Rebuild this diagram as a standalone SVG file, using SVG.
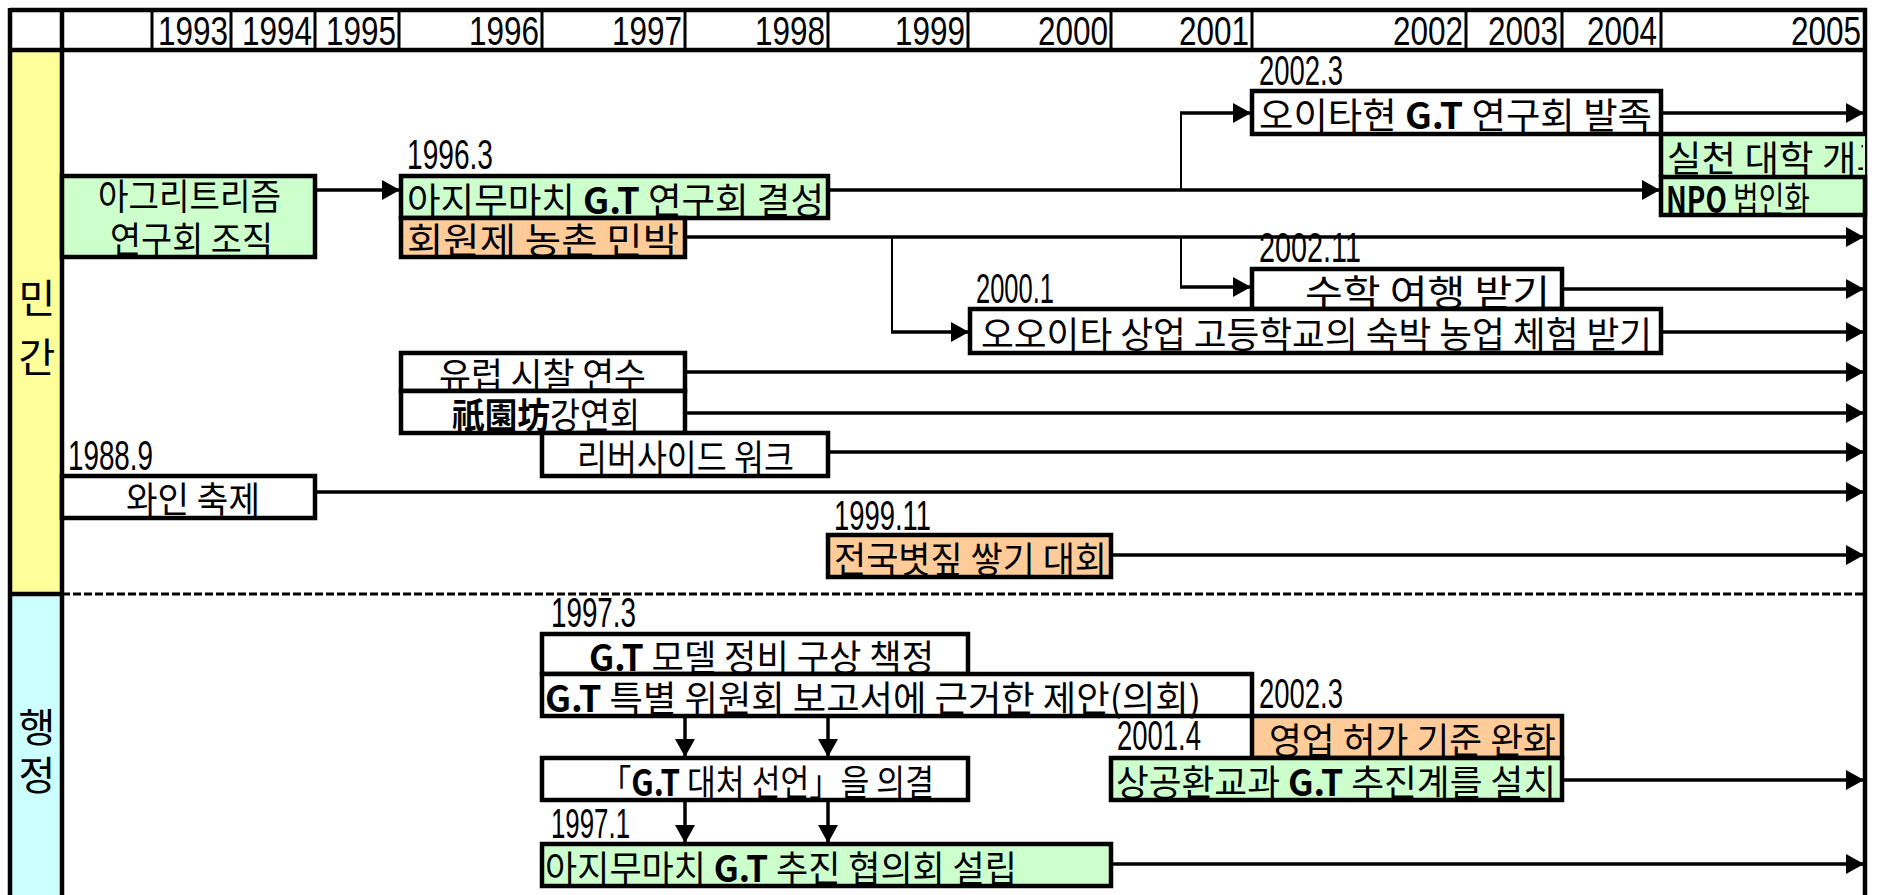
<svg xmlns="http://www.w3.org/2000/svg" width="1877" height="895" viewBox="0 0 1877 895">
<style>
.box{stroke:#000;stroke-width:4.5}
.w{fill:#fff}.g{fill:#CCFFCC}.o{fill:#FFCC99}
.t{font-family:"Noto Sans CJK KR","Noto Sans",sans-serif;font-size:36px;fill:#000}
.n{font-family:"Liberation Sans",Arial,sans-serif;font-size:42px;fill:#000}
.c{stroke:#000;stroke-width:3.5;fill:none}
.th{stroke:#000;stroke-width:2;fill:none}
.grid{stroke:#000;stroke-width:3}
.gridb{stroke:#000;stroke-width:4.5}
.b{font-weight:bold}
</style>
<defs>
<marker id="ah" markerUnits="userSpaceOnUse" markerWidth="19" markerHeight="20" refX="18" refY="10" orient="auto">
<path d="M0,0 L18,10 L0,20 z" fill="#000"/>
</marker>
<clipPath id="clipE"><rect x="1661" y="134" width="202" height="43"/></clipPath>
</defs>
<rect width="1877" height="895" fill="#fff"/>
<g id="frame">
<rect x="10" y="50" width="52" height="544" fill="#FFFF99"/>
<rect x="10" y="594" width="52" height="301" fill="#CCFFFF"/>
<line class="gridb" x1="10" y1="10" x2="1867" y2="10"/>
<line class="gridb" x1="10" y1="50" x2="1867" y2="50"/>
<line class="gridb" x1="10" y1="8" x2="10" y2="895"/>
<line class="gridb" x1="62" y1="8" x2="62" y2="895"/>
<line class="gridb" x1="1865" y1="8" x2="1865" y2="895"/>
<line class="gridb" x1="10" y1="594" x2="62" y2="594"/>
<line x1="62" y1="594" x2="1865" y2="594" stroke="#000" stroke-width="3" stroke-dasharray="8,3"/>
<g class="grid">
<line x1="152" y1="10" x2="152" y2="50"/>
<line x1="231" y1="10" x2="231" y2="50"/>
<line x1="315" y1="10" x2="315" y2="50"/>
<line x1="399" y1="10" x2="399" y2="50"/>
<line x1="542" y1="10" x2="542" y2="50"/>
<line x1="685" y1="10" x2="685" y2="50"/>
<line x1="828" y1="10" x2="828" y2="50"/>
<line x1="968" y1="10" x2="968" y2="50"/>
<line x1="1111" y1="10" x2="1111" y2="50"/>
<line x1="1252" y1="10" x2="1252" y2="50"/>
<line x1="1466" y1="10" x2="1466" y2="50"/>
<line x1="1562" y1="10" x2="1562" y2="50"/>
<line x1="1661" y1="10" x2="1661" y2="50"/>
</g>
<g class="n" text-anchor="end" style="font-size:40px">
<text x="228" y="45" textLength="70" lengthAdjust="spacingAndGlyphs">1993</text>
<text x="312" y="45" textLength="70" lengthAdjust="spacingAndGlyphs">1994</text>
<text x="396" y="45" textLength="70" lengthAdjust="spacingAndGlyphs">1995</text>
<text x="539" y="45" textLength="70" lengthAdjust="spacingAndGlyphs">1996</text>
<text x="682" y="45" textLength="70" lengthAdjust="spacingAndGlyphs">1997</text>
<text x="825" y="45" textLength="70" lengthAdjust="spacingAndGlyphs">1998</text>
<text x="965" y="45" textLength="70" lengthAdjust="spacingAndGlyphs">1999</text>
<text x="1108" y="45" textLength="70" lengthAdjust="spacingAndGlyphs">2000</text>
<text x="1249" y="45" textLength="70" lengthAdjust="spacingAndGlyphs">2001</text>
<text x="1463" y="45" textLength="70" lengthAdjust="spacingAndGlyphs">2002</text>
<text x="1558" y="45" textLength="70" lengthAdjust="spacingAndGlyphs">2003</text>
<text x="1657" y="45" textLength="70" lengthAdjust="spacingAndGlyphs">2004</text>
<text x="1861" y="45" textLength="70" lengthAdjust="spacingAndGlyphs">2005</text>
</g>
<g class="t" text-anchor="middle" dominant-baseline="central" style="font-size:40px">
<text x="37" y="296">민</text>
<text x="37" y="355">간</text>
<text x="37" y="725">행</text>
<text x="37" y="773">정</text>
</g>
</g>

<g id="connectors">
<line class="c" x1="315" y1="190" x2="400" y2="190" marker-end="url(#ah)"/>
<line class="c" x1="828" y1="190" x2="1660" y2="190" marker-end="url(#ah)"/>
<line class="th" x1="1181" y1="190" x2="1181" y2="113"/>
<line class="c" x1="1180" y1="113" x2="1251" y2="113" marker-end="url(#ah)"/>
<line class="c" x1="1661" y1="113" x2="1864" y2="113" marker-end="url(#ah)"/>
<line class="c" x1="685" y1="237" x2="1864" y2="237" marker-end="url(#ah)"/>
<line class="th" x1="892" y1="237" x2="892" y2="332"/>
<line class="c" x1="891" y1="332" x2="969" y2="332" marker-end="url(#ah)"/>
<line class="th" x1="1181" y1="237" x2="1181" y2="287"/>
<line class="c" x1="1180" y1="287" x2="1251" y2="287" marker-end="url(#ah)"/>
<line class="c" x1="1562" y1="289" x2="1864" y2="289" marker-end="url(#ah)"/>
<line class="c" x1="1661" y1="332" x2="1864" y2="332" marker-end="url(#ah)"/>
<line class="c" x1="685" y1="372" x2="1864" y2="372" marker-end="url(#ah)"/>
<line class="c" x1="685" y1="413" x2="1864" y2="413" marker-end="url(#ah)"/>
<line class="c" x1="828" y1="452" x2="1864" y2="452" marker-end="url(#ah)"/>
<line class="c" x1="315" y1="492" x2="1864" y2="492" marker-end="url(#ah)"/>
<line class="c" x1="1111" y1="555" x2="1864" y2="555" marker-end="url(#ah)"/>
<line class="c" x1="1562" y1="780" x2="1864" y2="780" marker-end="url(#ah)"/>
<line class="c" x1="1111" y1="864" x2="1864" y2="864" marker-end="url(#ah)"/>
<line class="c" x1="685" y1="716" x2="685" y2="757" marker-end="url(#ah)"/>
<line class="c" x1="828" y1="716" x2="828" y2="757" marker-end="url(#ah)"/>
<line class="c" x1="685" y1="800" x2="685" y2="843" marker-end="url(#ah)"/>
<line class="c" x1="828" y1="800" x2="828" y2="843" marker-end="url(#ah)"/>
</g>

<g id="n-agri">
<rect class="box g" x="62" y="176" width="253" height="81"/>
<text class="t" x="98" y="194" dominant-baseline="central" textLength="183" lengthAdjust="spacingAndGlyphs">아그리트리즘</text>
<text class="t" x="110" y="237" dominant-baseline="central" textLength="163" lengthAdjust="spacingAndGlyphs">연구회 조직</text>
</g>
<g id="n-ajimu-gt">
<text class="n" x="407" y="169" textLength="86" lengthAdjust="spacingAndGlyphs">1996.3</text>
<rect class="box g" x="401" y="176" width="427" height="42"/>
<text class="t" x="407" y="198" dominant-baseline="central" textLength="417" lengthAdjust="spacingAndGlyphs">아지무마치 <tspan class="b">G.T</tspan> 연구회 결성</text>
</g>
<g id="n-minbak">
<rect class="box o" x="401" y="218" width="284" height="39"/>
<text class="t" x="407" y="238" dominant-baseline="central" textLength="272" lengthAdjust="spacingAndGlyphs">회원제 농촌 민박</text>
</g>
<g id="n-oita">
<text class="n" x="1259" y="85" textLength="84" lengthAdjust="spacingAndGlyphs">2002.3</text>
<rect class="box w" x="1252" y="91" width="409" height="43"/>
<text class="t" x="1259" y="113" dominant-baseline="central" textLength="393" lengthAdjust="spacingAndGlyphs">오이타현 <tspan class="b">G.T</tspan> 연구회 발족</text>
</g>
<g id="n-college">
<rect x="1661" y="134" width="204" height="43" fill="#CCFFCC"/>
<line class="gridb" x1="1661" y1="134" x2="1865" y2="134"/>
<line class="gridb" x1="1661" y1="132" x2="1661" y2="177"/>
<text class="t" x="1667" y="156" dominant-baseline="central" textLength="224" lengthAdjust="spacingAndGlyphs" clip-path="url(#clipE)">실천 대학 개교</text>
</g>
<g id="n-npo">
<rect class="box g" x="1661" y="177" width="204" height="38"/>
<text class="t" x="1666" y="197" dominant-baseline="central" textLength="144" lengthAdjust="spacingAndGlyphs"><tspan class="b">NPO</tspan> 법인화</text>
</g>
<g id="n-school-trip">
<text class="n" x="1259" y="262" textLength="102" lengthAdjust="spacingAndGlyphs">2002.11</text>
<rect class="box w" x="1252" y="269" width="310" height="40"/>
<text class="t" x="1305" y="290" dominant-baseline="central" textLength="245" lengthAdjust="spacingAndGlyphs">수학 여행 받기</text>
</g>
<g id="n-oita-school">
<text class="n" x="976" y="303" textLength="78" lengthAdjust="spacingAndGlyphs">2000.1</text>
<rect class="box w" x="970" y="309" width="691" height="44"/>
<text class="t" x="981" y="332" dominant-baseline="central" textLength="671" lengthAdjust="spacingAndGlyphs">오오이타 상업 고등학교의 숙박 농업 체험 받기</text>
</g>
<g id="n-europe">
<rect class="box w" x="401" y="353" width="284" height="38"/>
<text class="t" x="439" y="373" dominant-baseline="central" textLength="207" lengthAdjust="spacingAndGlyphs">유럽 시찰 연수</text>
</g>
<g id="n-lecture">
<rect class="box w" x="401" y="391" width="284" height="42"/>
<text class="t" x="452" y="413" dominant-baseline="central" textLength="188" lengthAdjust="spacingAndGlyphs"><tspan class="b">祇園坊</tspan>강연회</text>
</g>
<g id="n-riverside">
<rect class="box w" x="542" y="433" width="286" height="43"/>
<text class="t" x="577" y="455" dominant-baseline="central" textLength="217" lengthAdjust="spacingAndGlyphs">리버사이드 워크</text>
</g>
<g id="n-wine">
<text class="n" x="68" y="470" textLength="85" lengthAdjust="spacingAndGlyphs">1988.9</text>
<rect class="box w" x="62" y="476" width="253" height="42"/>
<text class="t" x="126" y="497" dominant-baseline="central" textLength="134" lengthAdjust="spacingAndGlyphs">와인 축제</text>
</g>
<g id="n-straw">
<text class="n" x="834" y="530" textLength="97" lengthAdjust="spacingAndGlyphs">1999.11</text>
<rect class="box o" x="828" y="535" width="283" height="42"/>
<text class="t" x="834" y="557" dominant-baseline="central" textLength="273" lengthAdjust="spacingAndGlyphs">전국볏짚 쌓기 대회</text>
</g>
<g id="n-model">
<text class="n" x="551" y="627" textLength="85" lengthAdjust="spacingAndGlyphs">1997.3</text>
<rect class="box w" x="542" y="634" width="426" height="40"/>
<text class="t" x="589" y="655" dominant-baseline="central" textLength="345" lengthAdjust="spacingAndGlyphs"><tspan class="b">G.T</tspan> 모델 정비 구상 책정</text>
</g>
<g id="n-proposal">
<rect class="box w" x="542" y="674" width="710" height="42"/>
<text class="t" x="545" y="696" dominant-baseline="central" textLength="656" lengthAdjust="spacingAndGlyphs"><tspan class="b">G.T</tspan> 특별 위원회 보고서에 근거한 제안(의회)</text>
</g>
<g id="n-license">
<text class="n" x="1259" y="708" textLength="84" lengthAdjust="spacingAndGlyphs">2002.3</text>
<rect class="box o" x="1252" y="716" width="310" height="42"/>
<text class="t" x="1269" y="738" dominant-baseline="central" textLength="287" lengthAdjust="spacingAndGlyphs">영업 허가 기준 완화</text>
</g>
<g id="n-section">
<text class="n" x="1117" y="750" textLength="84" lengthAdjust="spacingAndGlyphs">2001.4</text>
<rect class="box g" x="1111" y="758" width="451" height="42"/>
<text class="t" x="1116" y="780" dominant-baseline="central" textLength="440" lengthAdjust="spacingAndGlyphs">상공환교과 <tspan class="b">G.T</tspan> 추진계를 설치</text>
</g>
<g id="n-declaration">
<rect class="box w" x="542" y="758" width="426" height="42"/>
<text class="t" x="600" y="780" dominant-baseline="central" textLength="334" lengthAdjust="spacingAndGlyphs">「<tspan class="b">G.T</tspan> 대처 선언」을 의결</text>
</g>
<g id="n-council">
<text class="n" x="551" y="838" textLength="79" lengthAdjust="spacingAndGlyphs">1997.1</text>
<rect class="box g" x="542" y="844" width="569" height="42"/>
<text class="t" x="545" y="866" dominant-baseline="central" textLength="472" lengthAdjust="spacingAndGlyphs">아지무마치 <tspan class="b">G.T</tspan> 추진 협의회 설립</text>
</g>
</svg>
